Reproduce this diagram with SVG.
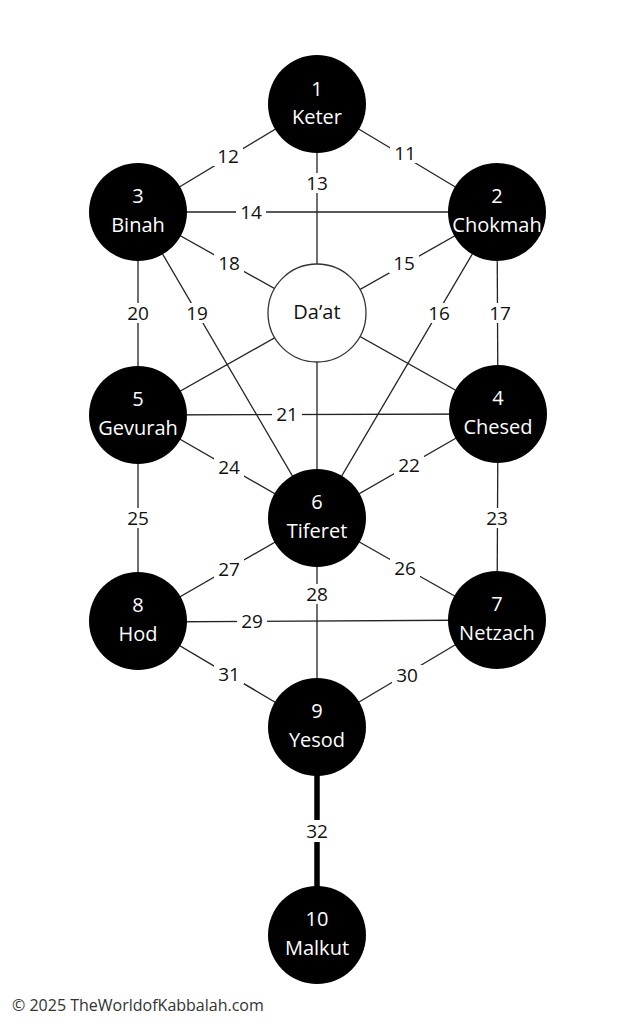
<svg xmlns="http://www.w3.org/2000/svg" width="633" height="1024" viewBox="0 0 633 1024">
<style>
.ln{stroke:#222;stroke-width:1.3;fill:none}
.thick{stroke:#000;stroke-width:5.5;fill:none}
.node{fill:#000}
.daat{fill:#fff;stroke:#333;stroke-width:1.3}
.nt{font-family:"Open Sans","Noto Sans",sans-serif;font-size:20px;fill:#fff;text-anchor:middle}
.dt{font-family:"Open Sans","Noto Sans",sans-serif;font-size:20px;fill:#111;text-anchor:middle}
.lb{font-family:"Open Sans","Noto Sans",sans-serif;font-size:19px;fill:#111;text-anchor:middle}
.bg{fill:#fff}
.ft{font-family:"Open Sans","Noto Sans",sans-serif;font-size:16px;fill:#333}
</style>
<rect width="633" height="1024" fill="#fff"/>
<g id="connectors">
<line class="ln" x1="317" y1="104" x2="138" y2="212"/>
<line class="ln" x1="317" y1="104" x2="497" y2="212"/>
<line class="ln" x1="317" y1="104" x2="317" y2="518"/>
<line class="ln" x1="138" y1="212" x2="497" y2="212"/>
<line class="ln" x1="138" y1="212" x2="498" y2="414"/>
<line class="ln" x1="497" y1="212" x2="138" y2="415"/>
<line class="ln" x1="138" y1="212" x2="317" y2="518"/>
<line class="ln" x1="497" y1="212" x2="317" y2="518"/>
<line class="ln" x1="138" y1="212" x2="138" y2="415"/>
<line class="ln" x1="497" y1="212" x2="498" y2="414"/>
<line class="ln" x1="138" y1="415" x2="498" y2="414"/>
<line class="ln" x1="138" y1="415" x2="317" y2="518"/>
<line class="ln" x1="498" y1="414" x2="317" y2="518"/>
<line class="ln" x1="138" y1="415" x2="138" y2="621"/>
<line class="ln" x1="498" y1="414" x2="497" y2="620"/>
<line class="ln" x1="138" y1="621" x2="317" y2="518"/>
<line class="ln" x1="497" y1="620" x2="317" y2="518"/>
<line class="ln" x1="317" y1="518" x2="317" y2="727"/>
<line class="ln" x1="138" y1="622" x2="497" y2="620"/>
<line class="ln" x1="138" y1="621" x2="317" y2="727"/>
<line class="ln" x1="497" y1="620" x2="317" y2="727"/>
<line class="thick" x1="317" y1="727" x2="317" y2="935"/>
</g>
<g id="labels">
<g><rect class="bg" x="213" y="146" width="30" height="20"/><text class="lb" x="228" y="163">12</text></g>
<g><rect class="bg" x="390" y="143" width="30" height="20"/><text class="lb" x="405" y="160">11</text></g>
<g><rect class="bg" x="302" y="173" width="30" height="20"/><text class="lb" x="317" y="190">13</text></g>
<g><rect class="bg" x="236" y="202" width="30" height="20"/><text class="lb" x="251" y="219">14</text></g>
<g><rect class="bg" x="214" y="253" width="30" height="20"/><text class="lb" x="229" y="270">18</text></g>
<g><rect class="bg" x="389" y="253" width="30" height="20"/><text class="lb" x="404" y="270">15</text></g>
<g><rect class="bg" x="123" y="303" width="30" height="20"/><text class="lb" x="138" y="320">20</text></g>
<g><rect class="bg" x="182" y="303" width="30" height="20"/><text class="lb" x="197" y="320">19</text></g>
<g><rect class="bg" x="424" y="303" width="30" height="20"/><text class="lb" x="439" y="320">16</text></g>
<g><rect class="bg" x="485" y="303" width="30" height="20"/><text class="lb" x="500" y="320">17</text></g>
<g><rect class="bg" x="272" y="404" width="30" height="20"/><text class="lb" x="287" y="421">21</text></g>
<g><rect class="bg" x="214" y="457" width="30" height="20"/><text class="lb" x="229" y="474">24</text></g>
<g><rect class="bg" x="394" y="455" width="30" height="20"/><text class="lb" x="409" y="472">22</text></g>
<g><rect class="bg" x="123" y="508" width="30" height="20"/><text class="lb" x="138" y="525">25</text></g>
<g><rect class="bg" x="482" y="508" width="30" height="20"/><text class="lb" x="497" y="525">23</text></g>
<g><rect class="bg" x="214" y="559" width="30" height="20"/><text class="lb" x="229" y="576">27</text></g>
<g><rect class="bg" x="390" y="558" width="30" height="20"/><text class="lb" x="405" y="575">26</text></g>
<g><rect class="bg" x="302" y="584" width="30" height="20"/><text class="lb" x="317" y="601">28</text></g>
<g><rect class="bg" x="237" y="611" width="30" height="20"/><text class="lb" x="252" y="628">29</text></g>
<g><rect class="bg" x="214" y="664" width="30" height="20"/><text class="lb" x="229" y="681">31</text></g>
<g><rect class="bg" x="392" y="665" width="30" height="20"/><text class="lb" x="407" y="682">30</text></g>
<g><rect class="bg" x="301" y="820" width="32" height="22"/><text class="lb" x="317" y="838">32</text></g>
</g>
<g id="keter"><circle class="node" cx="317" cy="104" r="49"/><text class="nt" x="317" y="96">1</text><text class="nt" x="317" y="124">Keter</text></g>
<g id="chokmah"><circle class="node" cx="497" cy="212" r="49"/><text class="nt" x="497" y="203">2</text><text class="nt" x="497" y="232">Chokmah</text></g>
<g id="binah"><circle class="node" cx="138" cy="212" r="49"/><text class="nt" x="138" y="203">3</text><text class="nt" x="138" y="232">Binah</text></g>
<g id="daat"><circle class="daat" cx="317" cy="313" r="49"/><text class="dt" x="317" y="319">Da’at</text></g>
<g id="chesed"><circle class="node" cx="498" cy="414" r="49"/><text class="nt" x="498" y="405">4</text><text class="nt" x="498" y="434">Chesed</text></g>
<g id="gevurah"><circle class="node" cx="138" cy="415" r="49"/><text class="nt" x="138" y="406">5</text><text class="nt" x="138" y="435">Gevurah</text></g>
<g id="tiferet"><circle class="node" cx="317" cy="518" r="49"/><text class="nt" x="317" y="509">6</text><text class="nt" x="317" y="538">Tiferet</text></g>
<g id="netzach"><circle class="node" cx="497" cy="620" r="49"/><text class="nt" x="497" y="611">7</text><text class="nt" x="497" y="640">Netzach</text></g>
<g id="hod"><circle class="node" cx="138" cy="621" r="49"/><text class="nt" x="138" y="612">8</text><text class="nt" x="138" y="641">Hod</text></g>
<g id="yesod"><circle class="node" cx="317" cy="727" r="49"/><text class="nt" x="317" y="718">9</text><text class="nt" x="317" y="747">Yesod</text></g>
<g id="malkut"><circle class="node" cx="317" cy="935" r="49"/><text class="nt" x="317" y="926">10</text><text class="nt" x="317" y="955">Malkut</text></g>
<text class="ft" x="12" y="1011">© 2025 TheWorldofKabbalah.com</text>
</svg>
